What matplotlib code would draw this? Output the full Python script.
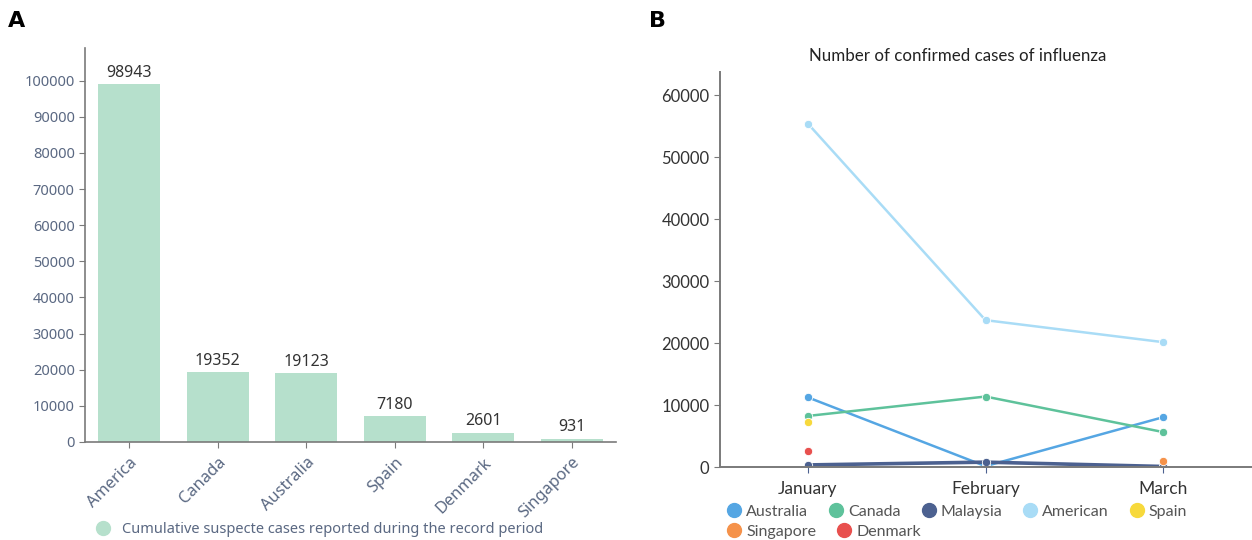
import matplotlib.pyplot as plt
import numpy as np
from matplotlib.lines import Line2D

# Panel A data
countries = ["America", "Canada", "Australia", "Spain", "Denmark", "Singapore"]
suspected = [98943, 19352, 19123, 7180, 2601, 931]

# Panel B data
months = ["January", "February", "March"]
australia = [11250, 150, 8050]
canada = [8250, 11380, 5650]
malaysia = [350, 800, 100]
american = [55400, 23700, 20150]
spain = [7300, np.nan, np.nan]
singapore = [np.nan, np.nan, 1000]
denmark = [2650, np.nan, np.nan]

series_names = ["Australia", "Canada", "Malaysia", "American", "Spain", "Singapore", "Denmark"]
series_values = [australia, canada, malaysia, american, spain, singapore, denmark]
series_colors = ["#55a6e3", "#5ec29b", "#4c6190", "#a9dcf6", "#f7d93c", "#f5924a", "#e8504e"]

bar_color = "#b6e0cc"
tick_color = "#5a6882"
axis_color = "#7a7a7a"

fig = plt.figure(figsize=(12.52, 5.40), dpi=100)

# ---------- Panel A ----------
axA = fig.add_axes([0.068, 0.1815, 0.424, 0.7295])
x = np.arange(len(countries))
bars = axA.bar(x, suspected, width=0.7, color=bar_color)
for rect, val in zip(bars, suspected):
    axA.text(rect.get_x() + rect.get_width() / 2, val + 900, str(val), ha="center", va="bottom",
             fontsize=11.5, color="#333333", family="Noto Sans")
axA.set_xlim(-0.5, len(countries) - 0.5)
axA.set_ylim(0, 109000)
axA.set_yticks(range(0, 100001, 10000))
axA.set_xticks(x)
axA.set_xticklabels(countries, rotation=45, ha="right", rotation_mode="anchor", family="Noto Sans")
for lab in axA.get_yticklabels():
    lab.set_family("Noto Sans")
axA.tick_params(axis="both", colors=axis_color, labelcolor=tick_color, labelsize=10.5, length=4)
axA.tick_params(axis="x", pad=5, labelsize=11.8)
for side in ["top", "right"]:
    axA.spines[side].set_visible(False)
for side in ["left", "bottom"]:
    axA.spines[side].set_color(axis_color)
    axA.spines[side].set_linewidth(1.2)

handleA = Line2D([], [], marker="o", linestyle="none", markersize=10, color=bar_color)
axA.legend([handleA], ["Cumulative suspecte cases reported during the record period"],
           loc="center", bbox_to_anchor=(0.434, -0.222), frameon=False, handletextpad=0.3,
           borderpad=0, prop={"family": "Noto Sans", "size": 10.5}, labelcolor=tick_color)

fig.text(0.006, 0.962, "A", fontsize=16, fontweight="bold", va="center", family="DejaVu Sans")

# ---------- Panel B ----------
axB = fig.add_axes([0.575, 0.135, 0.425, 0.732])
xm = np.arange(len(months))
handles = []
for name, vals, col in zip(series_names, series_values, series_colors):
    lw = 2.6 if name == "Malaysia" else 1.8
    axB.plot(xm, vals, color=col, linewidth=lw, marker="o", markersize=6, label=name,
             markeredgecolor="white", markeredgewidth=0.6)
    handles.append(Line2D([], [], marker="o", linestyle="none", markersize=10, color=col))
axB.set_xlim(-0.495, 2.5)
axB.set_ylim(0, 63750)
axB.set_yticks(range(0, 60001, 10000))
axB.set_xticks(xm)
axB.set_xticklabels(months, family="Lato")
for lab in axB.get_yticklabels():
    lab.set_family("Lato")
axB.tick_params(axis="y", colors=axis_color, labelcolor="#333333", labelsize=12, length=4)
axB.tick_params(axis="x", colors="#4c6190", labelcolor="#333333", labelsize=12.5, length=4, pad=6)
for side in ["top", "right"]:
    axB.spines[side].set_visible(False)
for side in ["left", "bottom"]:
    axB.spines[side].set_color(axis_color)
    axB.spines[side].set_linewidth(1.4)
fig.text(0.765, 0.897, "Number of confirmed cases of influenza", fontsize=12.2, family="Lato",
         color="#222222", ha="center", va="center")

leg1 = axB.legend(handles[:5], series_names[:5], ncol=5, loc="upper left", bbox_to_anchor=(0.012, -0.095),
                  frameon=False, handletextpad=0.25, columnspacing=1.25, borderaxespad=0, borderpad=0,
                  prop={"family": "Lato", "size": 11.5}, labelcolor="#555555", handlelength=1.0)
axB.add_artist(leg1)
axB.legend(handles[5:], series_names[5:], ncol=2, loc="upper left", bbox_to_anchor=(0.012, -0.145),
           frameon=False, handletextpad=0.25, columnspacing=1.25, borderaxespad=0, borderpad=0,
           prop={"family": "Lato", "size": 11.5}, labelcolor="#555555", handlelength=1.0)

fig.text(0.518, 0.962, "B", fontsize=16, fontweight="bold", va="center", family="DejaVu Sans")

fig.savefig("out.png", dpi=100)
